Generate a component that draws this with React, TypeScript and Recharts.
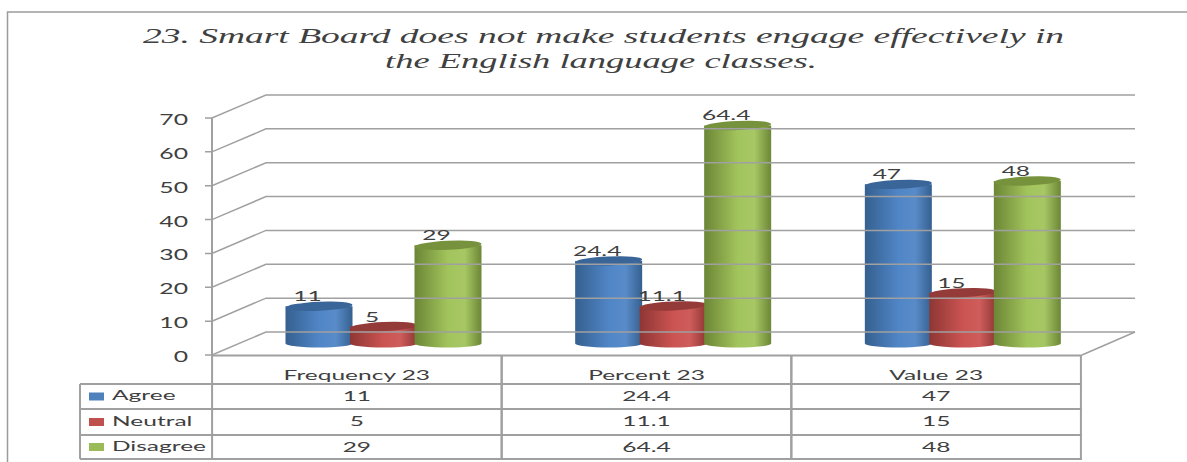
import React from 'react';
import { BarChart, Bar, XAxis, YAxis, LabelList } from 'recharts';

const categories = ['Frequency 23', 'Percent 23', 'Value 23'];
const agree = [11, 24.4, 47];
const neutral = [5, 11.1, 15];
const disagree = [29, 64.4, 48];
const yTicks = [0, 10, 20, 30, 40, 50, 60, 70];
const seriesNames = ['Agree', 'Neutral', 'Disagree'];
const seriesValues = [agree, neutral, disagree];

const chartData = categories.map((name, i) => ({
  name,
  agree: agree[i],
  neutral: neutral[i],
  disagree: disagree[i],
}));

const WIDTH = 1187;
const HEIGHT = 462;
const AXIS_X = 212;
const FLOOR_RIGHT = 1082;
const DEPTH_X = 54;
const DEPTH_Y = 23;
const COL_WIDTH = 289.5;
const LEGEND_X = 80;
const ROW_LINES = [355.5, 384, 409, 435, 459];
const LINE = '#a0a0a0';
const TEXT = '#404040';
const FONT = 'Lato, "Noto Sans", sans-serif';
const SERIF = '"Liberation Serif", serif';

const palette = {
  agree: { id: 'cylAgree', edge: '#35608f', mid: '#5085c6', top: '#3a6598', swatch: '#4f81bd' },
  neutral: { id: 'cylNeutral', edge: '#8e3634', mid: '#cb5452', top: '#943b39', swatch: '#c0504d' },
  disagree: { id: 'cylDisagree', edge: '#6c8636', mid: '#a2c45c', top: '#76923c', swatch: '#9bbb59' },
};
const swatches = [palette.agree.swatch, palette.neutral.swatch, palette.disagree.swatch];

// wide, flattened lettering used by every label in the chart
const WideText = ({ x, y, children, anchor = 'middle', scale = 1.75, size = 14, family = FONT, italic = false }: any) => (
  <text
    transform={`translate(${x},${y}) scale(${scale},1)`}
    textAnchor={anchor}
    fontFamily={family}
    fontStyle={italic ? 'italic' : 'normal'}
    fontSize={size}
    fill={TEXT}
  >
    {children}
  </text>
);

// cylinder standing half way into the floor
const cylinder = (colors: any) => (props: any) => {
  const { x, y, width, height } = props;
  const rx = width / 2 + 0.5;
  const cx = x + width / 2;
  const top = y - DEPTH_Y / 2;
  const base = top + height;
  const ry = 4;
  return (
    <g>
      <path
        d={`M${cx - rx},${top} L${cx - rx},${base} A${rx},${ry} 0 0 0 ${cx + rx},${base} L${cx + rx},${top} Z`}
        fill={`url(#${colors.id})`}
      />
      <ellipse cx={cx} cy={top} rx={rx} ry={ry + 0.5} fill={colors.top} transform={`rotate(-2.5 ${cx} ${top})`} />
    </g>
  );
};

const valueLabel = (props: any) => {
  const { x, y, width, value } = props;
  return (
    <WideText x={x + width / 2 - DEPTH_Y / 2} y={y - DEPTH_Y / 2 - 5}>
      {value}
    </WideText>
  );
};

// value axis tick, with its gridline carried along the side wall and back wall
const YTick = (props: any) => {
  const { y, payload } = props;
  const backY = y - DEPTH_Y;
  return (
    <g>
      <path
        d={`M${AXIS_X - 7},${y} L${AXIS_X},${y} L${AXIS_X + DEPTH_X},${backY} L${FLOOR_RIGHT + DEPTH_X - 1},${backY}`}
        fill="none"
        stroke={LINE}
        strokeWidth={1.5}
      />
      {payload.value === 0 && (
        <path d={`M${FLOOR_RIGHT},${y} L${FLOOR_RIGHT + DEPTH_X - 1},${backY}`} fill="none" stroke={LINE} strokeWidth={1.5} />
      )}
      <WideText x={188} y={y + 7} anchor="end" size={15} scale={1.65}>
        {payload.value}
      </WideText>
    </g>
  );
};

// one column of the data table sits under each category
const XTick = (props: any) => {
  const { x, payload, index } = props;
  const cx = x - DEPTH_X / 2;
  const left = cx - COL_WIDTH / 2;
  const right = cx + COL_WIDTH / 2;
  return (
    <g>
      <path
        d={`M${left},${ROW_LINES[0]} V${ROW_LINES[4]} M${right},${ROW_LINES[0]} V${ROW_LINES[4]}`}
        stroke={LINE}
        strokeWidth={2}
        fill="none"
      />
      <WideText x={cx} y={ROW_LINES[0] + 24}>{payload.value}</WideText>
      {seriesValues.map((vals, row) => (
        <WideText key={row} x={cx} y={ROW_LINES[row + 1] + 17}>
          {vals[index]}
        </WideText>
      ))}
    </g>
  );
};

const Frame = () => (
  <g>
    <path d={`M7.5,${HEIGHT} V12 H${WIDTH}`} fill="none" stroke="#9c9c9c" strokeWidth={1.5} />
    <WideText x={603.5} y={43} size={22} scale={1.705} family={SERIF} italic>
      23. Smart Board does not make students engage effectively in
    </WideText>
    <WideText x={601} y={68} size={22} scale={1.66} family={SERIF} italic>
      the English language classes.
    </WideText>
  </g>
);

// left hand legend column and the table's horizontal rules
const TableFrame = () => (
  <g>
    <path
      d={`M${AXIS_X},${ROW_LINES[0]} H${FLOOR_RIGHT} M${LEGEND_X},${ROW_LINES[1]} H${FLOOR_RIGHT} M${LEGEND_X},${ROW_LINES[2]} H${FLOOR_RIGHT} M${LEGEND_X},${ROW_LINES[3]} H${FLOOR_RIGHT} M${LEGEND_X},${ROW_LINES[4]} H${FLOOR_RIGHT} M${LEGEND_X},${ROW_LINES[1]} V${ROW_LINES[4]} M${AXIS_X},118 V${ROW_LINES[0]}`}
      fill="none"
      stroke={LINE}
      strokeWidth={2}
    />
    {seriesNames.map((name, i) => {
      const mid = (ROW_LINES[i + 1] + ROW_LINES[i + 2]) / 2;
      return (
        <g key={name}>
          <rect x={89} y={mid - 4} width={15} height={8} fill={swatches[i]} />
          <WideText x={112} y={mid + 3.5} anchor="start">{name}</WideText>
        </g>
      );
    })}
  </g>
);

const App = () => (
  <div style={{ position: 'absolute', left: 0, top: 0, width: WIDTH, height: HEIGHT, background: '#fff' }}>
    <BarChart
      width={WIDTH}
      height={HEIGHT}
      data={chartData}
      barSize={66}
      barGap={-1.5}
      margin={{ top: 118, right: 52, bottom: 77, left: 152 }}
    >
      <defs>
        {Object.values(palette).map((c) => (
          <linearGradient key={c.id} id={c.id} x1="0" y1="0" x2="1" y2="0">
            <stop offset="0%" stopColor={c.edge} />
            <stop offset="50%" stopColor={c.mid} />
            <stop offset="75%" stopColor={c.mid} stopOpacity={0.95} />
            <stop offset="100%" stopColor={c.edge} />
          </linearGradient>
        ))}
      </defs>
      <Frame />
      <TableFrame />
      <YAxis
        type="number"
        domain={[0, 70]}
        ticks={yTicks}
        width={60}
        axisLine={false}
        tickLine={false}
        tick={<YTick />}
        interval={0}
      />
      <XAxis
        dataKey="name"
        height={30}
        axisLine={false}
        tickLine={false}
        padding={{ left: DEPTH_X / 2, right: DEPTH_X / 2 }}
        tick={<XTick />}
        interval={0}
      />
      <Bar dataKey="agree" isAnimationActive={false} shape={cylinder(palette.agree)}>
        <LabelList dataKey="agree" content={valueLabel} />
      </Bar>
      <Bar dataKey="neutral" isAnimationActive={false} shape={cylinder(palette.neutral)}>
        <LabelList dataKey="neutral" content={valueLabel} />
      </Bar>
      <Bar dataKey="disagree" isAnimationActive={false} shape={cylinder(palette.disagree)}>
        <LabelList dataKey="disagree" content={valueLabel} />
      </Bar>
    </BarChart>
  </div>
);

export default App;
